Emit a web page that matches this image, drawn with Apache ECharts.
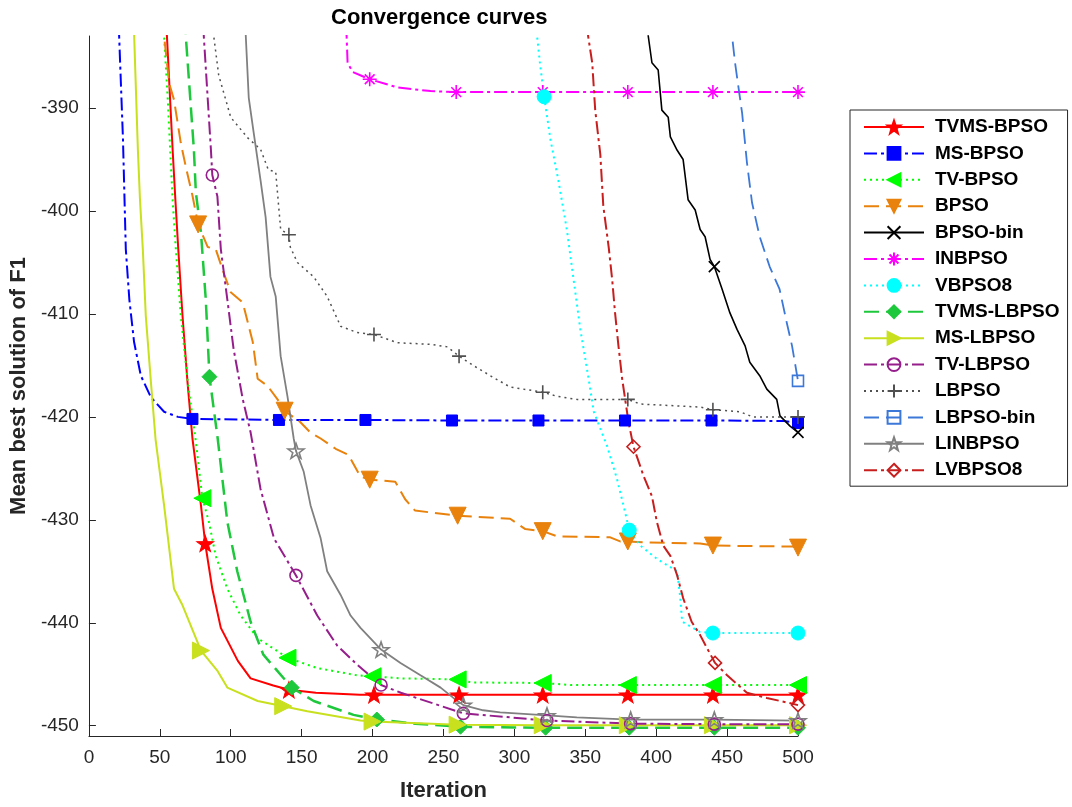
<!DOCTYPE html>
<html>
<head>
<meta charset="utf-8">
<title>Convergence curves</title>
<script src="https://cdn.jsdelivr.net/npm/echarts@6/dist/echarts.min.js"></script>
<style>
  html, body { margin: 0; padding: 0; background: #fff; }
  #chart { width: 1072px; height: 807px; }
</style>
</head>
<body>
<div id="chart"></div>
<script>
// tick labels
const xTicks = [0, 50, 100, 150, 200, 250, 300, 350, 400, 450, 500];
const yTicks = [-450, -440, -430, -420, -410, -400, -390];

// series names (legend order)
const names = ['TVMS-BPSO', 'MS-BPSO', 'TV-BPSO', 'BPSO', 'BPSO-bin', 'INBPSO', 'VBPSO8',
  'TVMS-LBPSO', 'MS-LBPSO', 'TV-LBPSO', 'LBPSO', 'LBPSO-bin', 'LINBPSO', 'LVBPSO8'];

// [iteration, mean best]; *Marks = iterations carrying a marker
const tvmsBpso = [[52,-375],[55,-383],[59,-394],[61,-399],[63,-403.7],[66,-410.2],[69.5,-416.6],[73,-422.1],[79,-428.6],[82,-432.3],[87,-436.7],[93,-440.5],[105,-443.7],[114,-445.4],[130,-446.1],[141,-446.5],[160,-446.8],[191,-447],[201,-447],[261,-447],[320,-447],[380,-447],[440,-447],[500,-447]];
const tvmsBpsoMarks = [82,141,201,261,320,380,440,500];

const msBpso = [[20,-375],[21.3,-383],[24,-393],[26,-403.7],[28.5,-408.6],[31.8,-412.7],[36.6,-416],[43.7,-418.1],[53,-419.5],[62.7,-420],[73,-420.2],[134,-420.3],[195,-420.3],[256,-420.35],[317,-420.35],[378,-420.35],[439,-420.35],[490,-420.4],[500,-420.6]];
const msBpsoMarks = [73,134,195,256,317,378,439,500];

const tvBpso = [[51,-375],[53,-383],[55.6,-389.2],[59,-398.9],[61.3,-403.7],[64.8,-410.2],[69.7,-416.6],[73,-419.9],[75.4,-422.4],[80,-427.9],[84.6,-430.2],[89.4,-433.5],[97.6,-436.7],[107,-439.3],[119,-441.5],[140,-443.4],[161,-444.4],[189,-445.1],[200,-445.2],[220,-445.4],[260,-445.5],[270,-445.8],[320,-445.85],[340,-446.05],[380,-446.05],[440,-446.05],[500,-446.05]];
const tvBpsoMarks = [80,140,200,260,320,380,440,500];

const bpso = [[51,-375],[53,-383],[56.6,-387.6],[60,-389.2],[64.8,-393.4],[68.3,-395.7],[73,-398.5],[77,-401.3],[83.8,-403.5],[89.4,-403.7],[95,-406],[100,-407.9],[108.5,-408.9],[112,-410.8],[115.5,-412.7],[119,-416.3],[126,-417],[133,-418.3],[138,-419.4],[149,-420.5],[156,-421.5],[163.4,-422.1],[174,-423.1],[183,-423.7],[191.5,-425.8],[198,-426.1],[216,-426.3],[223,-428],[230,-429.1],[260,-429.6],[297,-429.9],[307.7,-430.9],[320,-431.1],[330,-431.6],[367.6,-431.7],[374.6,-432.1],[380,-432.1],[393.6,-432.2],[431,-432.3],[440,-432.5],[496,-432.6],[500,-432.7]];
const bpsoMarks = [77,138,198,260,320,380,440,500];

const bpsoBin = [[393,-375],[394.4,-383],[397,-385.6],[401.4,-386.3],[404,-390.2],[408.5,-390.9],[410,-392.8],[414.8,-394.1],[419,-395],[422.5,-398.9],[427.5,-399.9],[431,-401.8],[434.5,-402.5],[438,-404.7],[441,-405.4],[446.5,-407.6],[452,-409.9],[457,-411.5],[462.7,-413.1],[466,-414.7],[473,-416],[478,-417.3],[485,-418.3],[487.3,-419.9],[494.4,-420.9],[500,-421.5]];
const bpsoBinMarks = [441,500];

const inbpso = [[181,-375],[181.7,-383],[182.4,-385.6],[186,-386.5],[198,-387.2],[217.6,-388],[241,-388.35],[259,-388.45],[320,-388.45],[380,-388.45],[440,-388.45],[500,-388.45]];
const inbpsoMarks = [198,259,320,380,440,500];

const vbpso8 = [[315,-375],[316,-383],[318,-385.6],[321,-388.9],[325.5,-393.1],[331,-397],[337,-401.8],[341.7,-406.6],[346.5,-411.5],[352,-416],[356,-419.5],[365.3,-422.8],[372.3,-426],[378,-429.2],[381,-431],[388.7,-432.5],[400.5,-433.8],[414.8,-435],[417,-437.6],[418.3,-439.9],[431,-440.9],[440,-441],[500,-441]];
const vbpso8Marks = [321,381,440,500];

const tvmsLbpso = [[66,-375],[68.3,-383],[74,-394],[75.4,-398.2],[79,-402.1],[82.4,-408.6],[85,-416.1],[90.8,-422.1],[97.6,-430.2],[104.6,-435],[114,-439.9],[123,-443.1],[133,-444.7],[143,-446.3],[158.5,-447.6],[186.6,-448.95],[203,-449.4],[230,-449.8],[262,-450.1],[322,-450.2],[381,-450.2],[441,-450.2],[500,-450.2]];
const tvmsLbpsoMarks = [85,143,203,262,322,381,441,500];

const msLbpso = [[31,-375],[31.9,-383],[34.5,-394],[36,-398.9],[38,-403.7],[40.1,-410.2],[43.7,-416.6],[47,-422.2],[53,-428.6],[60,-436.7],[66,-438.3],[79,-442.7],[90.8,-444.7],[97.6,-446.3],[119,-447.6],[137,-448.1],[154,-448.6],[191.5,-449.5],[200,-449.6],[260,-449.9],[320,-449.95],[380,-449.95],[440,-449.95],[500,-449.95]];
const msLbpsoMarks = [79,137,200,260,320,380,440,500];

const tvLbpso = [[80,-375],[81,-383],[86,-394],[87,-396.5],[90.6,-398.6],[93,-403.7],[97.6,-408.6],[102,-413.4],[108.5,-418.3],[114,-421.5],[121,-427],[130.5,-431.8],[146,-435.4],[161,-439.3],[175,-442.2],[189.4,-444.1],[206,-446.05],[220,-446.8],[264,-448.8],[323,-449.5],[382,-449.8],[441,-449.85],[500,-449.85]];
const tvLbpsoMarks = [87,146,206,264,323,382,441,500];

const lbpso = [[87,-375],[88,-383],[91.5,-386.8],[100,-390.9],[112,-392.9],[121,-394],[126.5,-396],[131.7,-396.2],[135.2,-401.8],[141,-402.3],[142,-403.5],[147,-405],[158.5,-406.4],[168,-408.3],[177.5,-411.2],[189,-411.8],[201,-412],[217.6,-412.8],[240.8,-412.95],[252.8,-413.2],[261,-414.1],[271,-415],[283,-416],[297,-417.1],[320,-417.6],[330,-418],[344,-418.3],[380,-418.3],[388.7,-418.75],[431,-419.05],[440,-419.3],[459,-419.5],[468,-420],[500,-420]];
const lbpsoMarks = [141,201,261,320,380,440,500];

const lbpsoBin = [[453,-375],[453.5,-383],[455.6,-385.6],[460.6,-390.5],[464,-395.3],[467.6,-399.2],[473,-402.5],[480,-405.4],[487,-407.6],[492,-410.8],[495.8,-413.1],[500,-416.5]];
const lbpsoBinMarks = [500];

const linbpso = [[110,-375],[110.6,-383],[112.7,-389],[116.2,-392.4],[121,-397],[124.6,-400.6],[128,-406.4],[131.7,-408.3],[135.2,-414.1],[140,-418],[144.4,-422.1],[146,-423.3],[151.4,-425.3],[156.3,-428.6],[163.4,-431.8],[168,-435],[177.5,-437.3],[184.5,-439.3],[191.5,-440.5],[206,-442.6],[219.7,-443.9],[233.8,-445.1],[248,-446.3],[257,-447.3],[264,-448],[278,-448.5],[290,-448.7],[323,-449],[344,-449.2],[382,-449.4],[441,-449.4],[500,-449.5]];
const linbpsoMarks = [146,206,264,323,382,441,500];

const lvbpso8 = [[351,-375],[352,-383],[354.9,-385.6],[357,-390.2],[360.6,-394.5],[362.7,-399.5],[366.5,-403.5],[369,-406.7],[371,-409.9],[373.4,-413.1],[376,-416.3],[380.5,-420.5],[384,-422.9],[391,-425.7],[397,-427.7],[400.5,-430.2],[405,-432.5],[410,-433.5],[414.8,-435.4],[419,-437.6],[425,-439.9],[431,-441.2],[436,-442.5],[441.5,-443.9],[450,-445.1],[464,-446.8],[478,-447.3],[494,-447.8],[500,-448]];
const lvbpso8Marks = [384,441.5,500];

const FONT = '"Liberation Sans", Arial, Helvetica, sans-serif';
const AXIS = '#262626';

const SYM = {
  star: 'path://M0,-10L2.35,-3.24L9.51,-3.09L3.8,1.24L5.88,8.09L0,4L-5.88,8.09L-3.8,1.24L-9.51,-3.09L-2.35,-3.24Z',
  cross: 'path://M-1,-1L1,1M-1,1L1,-1',
  asterisk: 'path://M-1,0L1,0M0,-1L0,1M-0.7,-0.7L0.7,0.7M-0.7,0.7L0.7,-0.7',
  plus: 'path://M-1,0L1,0M0,-1L0,1',
  ring: 'path://M1,0A1,1,0,1,1,-1,0A1,1,0,1,1,1,0Z',
  box: 'path://M-1,-1L1,-1L1,1L-1,1Z',
  diamond: 'path://M0,-1L1,0L0,1L-1,0Z',
};
const DASHDOT = [13, 4, 3, 4];
const DASHED = [15, 7];
const DOTTED = [2, 4];

function withMarks(points, marks) {
  return points.map((p) => (marks.includes(p[0]) ? { value: p } : { value: p, symbol: 'none' }));
}

function line(name, points, marks, color, opts) {
  const open = !!opts.open;
  return {
    name,
    type: 'line',
    data: withMarks(points, marks),
    symbol: opts.symbol,
    symbolSize: opts.size,
    symbolRotate: opts.rotate || 0,
    showSymbol: true,
    clip: true,
    lineStyle: { color, width: opts.width || 2, type: opts.dash || 'solid' },
    itemStyle: {
      color: open ? 'rgba(0,0,0,0)' : color,
      borderColor: color,
      borderWidth: open ? 1.6 : 1,
    },
    emphasis: { disabled: true },
  };
}

function buildOption() {
  const series = [
    line(names[0], tvmsBpso, tvmsBpsoMarks, '#ff0000', { symbol: SYM.star, size: [17, 16], width: 2 }),
    line(names[1], msBpso, msBpsoMarks, '#0000ff', { symbol: 'rect', size: 11, width: 2, dash: DASHDOT }),
    line(names[2], tvBpso, tvBpsoMarks, '#00ff00', { symbol: 'triangle', rotate: 90, size: 17, width: 2, dash: DOTTED }),
    line(names[3], bpso, bpsoMarks, '#e8820c', { symbol: 'triangle', rotate: 180, size: 17, width: 2, dash: DASHED }),
    line(names[4], bpsoBin, bpsoBinMarks, '#000000', { symbol: SYM.cross, size: 11, width: 1.6, open: true }),
    line(names[5], inbpso, inbpsoMarks, '#ff00ff', { symbol: SYM.asterisk, size: 14, width: 2, dash: DASHDOT, open: true }),
    line(names[6], vbpso8, vbpso8Marks, '#00ffff', { symbol: 'circle', size: 14, width: 2, dash: DOTTED }),
    line(names[7], tvmsLbpso, tvmsLbpsoMarks, '#1ec83c', { symbol: 'diamond', size: 15, width: 2.5, dash: DASHED }),
    line(names[8], msLbpso, msLbpsoMarks, '#c8e01e', { symbol: 'triangle', rotate: -90, size: 17, width: 2 }),
    line(names[9], tvLbpso, tvLbpsoMarks, '#961e8c', { symbol: SYM.ring, size: 12, width: 2, dash: DASHDOT, open: true }),
    line(names[10], lbpso, lbpsoMarks, '#505050', { symbol: SYM.plus, size: 14, width: 1.5, dash: DOTTED, open: true }),
    line(names[11], lbpsoBin, lbpsoBinMarks, '#3c78d8', { symbol: SYM.box, size: 11, width: 1.8, dash: DASHED, open: true }),
    line(names[12], linbpso, linbpsoMarks, '#808080', { symbol: SYM.star, size: [16, 15], width: 1.8, open: true }),
    line(names[13], lvbpso8, lvbpso8Marks, '#c81e1e', { symbol: SYM.diamond, size: 13, width: 2, dash: DASHDOT, open: true }),
  ];

  return {
    backgroundColor: '#fff',
    animation: false,
    textStyle: { fontFamily: FONT },
    title: {
      text: 'Convergence curves',
      left: 331,
      top: 7,
      padding: 0,
      textStyle: { fontFamily: FONT, fontSize: 22, fontWeight: 'bold', color: '#000' },
    },
    grid: { left: 88, right: 274, top: 36, bottom: 69, containLabel: false },
    xAxis: {
      type: 'value',
      min: 0,
      max: 500,
      interval: 50,
      name: 'Iteration',
      nameLocation: 'middle',
      nameGap: 44,
      nameTextStyle: { fontFamily: FONT, fontSize: 22, fontWeight: 'bold', color: '#262626' },
      axisLine: { show: true, onZero: false, lineStyle: { color: AXIS, width: 1 } },
      axisTick: { show: true, inside: true, length: 7, lineStyle: { color: AXIS } },
      axisLabel: { fontFamily: FONT, fontSize: 19, color: AXIS, margin: 12, formatter: (v) => (xTicks.includes(v) ? String(v) : '') },
      splitLine: { show: false },
    },
    yAxis: {
      type: 'value',
      min: -451,
      max: -383,
      name: 'Mean best solution of F1',
      nameLocation: 'middle',
      nameGap: 48,
      nameTextStyle: { fontFamily: FONT, fontSize: 22, fontWeight: 'bold', color: '#262626' },
      axisLine: { show: true, onZero: false, lineStyle: { color: AXIS, width: 1 } },
      axisTick: { show: true, inside: true, length: 7, lineStyle: { color: AXIS }, customValues: yTicks },
      axisLabel: { fontFamily: FONT, fontSize: 19, color: AXIS, margin: 10, customValues: yTicks },
      splitLine: { show: false },
    },
    legend: {
      orient: 'vertical',
      left: 850,
      top: 110,
      data: names,
      itemWidth: 60,
      itemHeight: 16,
      itemGap: 6.4,
      padding: [7, 8, 6, 13],
      backgroundColor: '#fff',
      borderColor: '#262626',
      borderWidth: 1,
      borderRadius: 0,
      selectedMode: false,
      textStyle: { fontFamily: FONT, fontSize: 19, fontWeight: 'bold', color: '#000', lineHeight: 20, padding: [0, 0, 0, 6] },
    },
    series,
  };
}

const chart = echarts.init(document.getElementById('chart'), null, { renderer: 'canvas' });
chart.setOption(buildOption());
</script>
</body>
</html>
